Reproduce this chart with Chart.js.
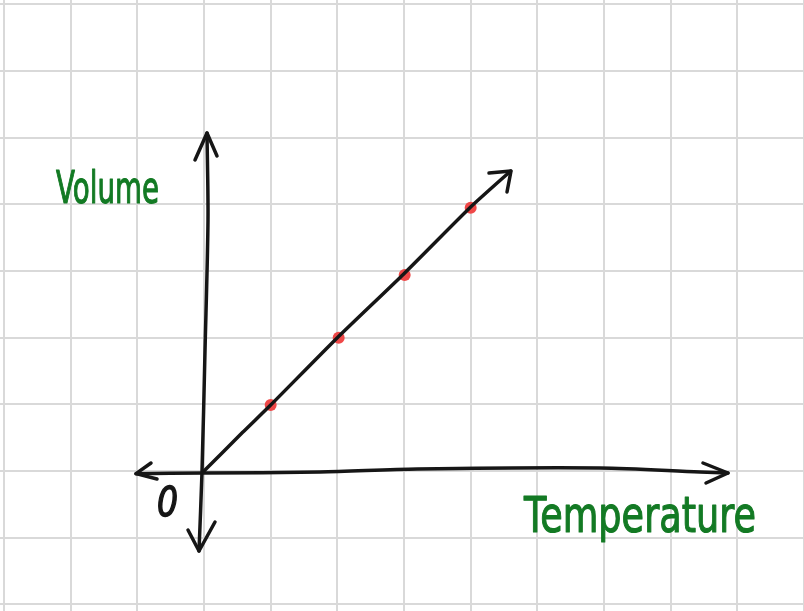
<!DOCTYPE html>
<html>
<head>
<meta charset="utf-8">
<script src="https://cdn.jsdelivr.net/npm/chart.js@4"></script>
<style>
  html, body { margin: 0; padding: 0; background: #ffffff; }
  canvas { display: block; }
</style>
</head>
<body>
<canvas id="croquis" width="804" height="611"></canvas>
<script>
// one unit = one square of the paper, origin where the axes cross
const mesures = [
    { x: 1.0, y: 0.99 },
    { x: 2.02, y: 2.0 },
    { x: 3.01, y: 2.94 },
    { x: 4.0, y: 3.95 }
];
const droite = [
    { x: 0, y: 0 }, { x: 0.58, y: 0.58 }, { x: 1.0, y: 0.99 }, { x: 2.0, y: 2.0 },
    { x: 3.0, y: 2.96 }, { x: 4.0, y: 3.96 }, { x: 4.6, y: 4.5 }
];
const flecheDroite = [{ x: 4.275, y: 4.47 }, { x: 4.605, y: 4.5 }, { x: 4.545, y: 4.185 }];

const axeX = [
    { x: -1.02, y: -0.04 }, { x: 0, y: -0.03 }, { x: 1.74, y: -0.015 }, { x: 3.2, y: 0.03 },
    { x: 5.94, y: 0.045 }, { x: 7.44, y: -0.015 }, { x: 7.86, y: -0.03 }
];
const flecheXGauche = [{ x: -0.795, y: 0.12 }, { x: -1.02, y: -0.04 }, { x: -0.705, y: -0.12 }];
const flecheXDroite = [{ x: 7.485, y: 0.12 }, { x: 7.86, y: -0.03 }, { x: 7.53, y: -0.18 }];

const axeY = [
    { x: 0.045, y: 5.07 }, { x: 0.06, y: 3.77 }, { x: 0.015, y: 1.8 },
    { x: -0.03, y: -0.015 }, { x: -0.075, y: -1.2 }
];
const flecheYHaut = [{ x: -0.135, y: 4.665 }, { x: 0.045, y: 5.07 }, { x: 0.195, y: 4.725 }];
const flecheYBas = [{ x: -0.24, y: -0.885 }, { x: -0.075, y: -1.2 }, { x: 0.165, y: -0.765 }];

const libelleX = "Temperature";
const libelleY = "Volume";
const libelleOrigine = "0";

const encre = "#161616";
const vert = "#137a24";

function trait(points, tension) {
    return {
        data: points,
        showLine: true,
        borderColor: encre,
        borderWidth: 3.5,
        pointRadius: 0,
        tension: tension || 0,
        borderCapStyle: "round",
        borderJoinStyle: "round"
    };
}

// écrit un texte à une largeur donnée (écriture manuscrite étroite)
function ecrire(ctx, texte, x, y, largeur, police, couleur, epaisseur) {
    ctx.save();
    ctx.font = police;
    ctx.fillStyle = couleur;
    ctx.strokeStyle = couleur;
    ctx.lineJoin = "round";
    ctx.textBaseline = "alphabetic";
    const w = ctx.measureText(texte).width;
    ctx.translate(x, y);
    ctx.scale(largeur / w, 1);
    ctx.fillText(texte, 0, 0);
    ctx.lineWidth = epaisseur;
    ctx.strokeText(texte, 0, 0);
    ctx.restore();
}

const libelles = {
    id: "libelles",
    afterDatasetsDraw(chart) {
        const ctx = chart.ctx;
        ecrire(ctx, libelleY, 56, 203, 103, "44px 'DejaVu Sans'", vert, 1.2);
        ecrire(ctx, libelleX, 524, 532, 232, "50px 'DejaVu Sans'", vert, 1.2);
        ecrire(ctx, libelleOrigine, 157, 516, 21, "italic 40px 'DejaVu Sans'", encre, 1.5);
    }
};

const config = {
    type: "scatter",
    data: {
        datasets: [
            trait(axeX, 0.3),
            trait(flecheXGauche),
            trait(flecheXDroite),
            trait(axeY, 0.3),
            trait(flecheYHaut),
            trait(flecheYBas),
            trait(droite, 0.2),
            trait(flecheDroite),
            {
                data: mesures,
                pointRadius: 6,
                pointHoverRadius: 6,
                pointBackgroundColor: "#ef4848",
                pointBorderWidth: 0,
                showLine: false
            }
        ]
    },
    options: {
        responsive: false,
        animation: false,
        layout: { padding: 0, autoPadding: false },
        plugins: { legend: { display: false }, tooltip: { enabled: false } },
        scales: {
            x: {
                type: "linear",
                min: -3.06,
                max: 9.0,
                border: { display: false },
                grid: { color: "#d9d9d9", lineWidth: 2, drawTicks: false },
                ticks: { display: false, stepSize: 1, includeBounds: false }
            },
            y: {
                type: "linear",
                min: -2.1,
                max: 7.065,
                border: { display: false },
                grid: { color: "#d9d9d9", lineWidth: 2, drawTicks: false },
                ticks: { display: false, stepSize: 1, includeBounds: false }
            }
        }
    },
    plugins: [libelles]
};

new Chart(document.querySelector("#croquis").getContext("2d"), config);
</script>
</body>
</html>
